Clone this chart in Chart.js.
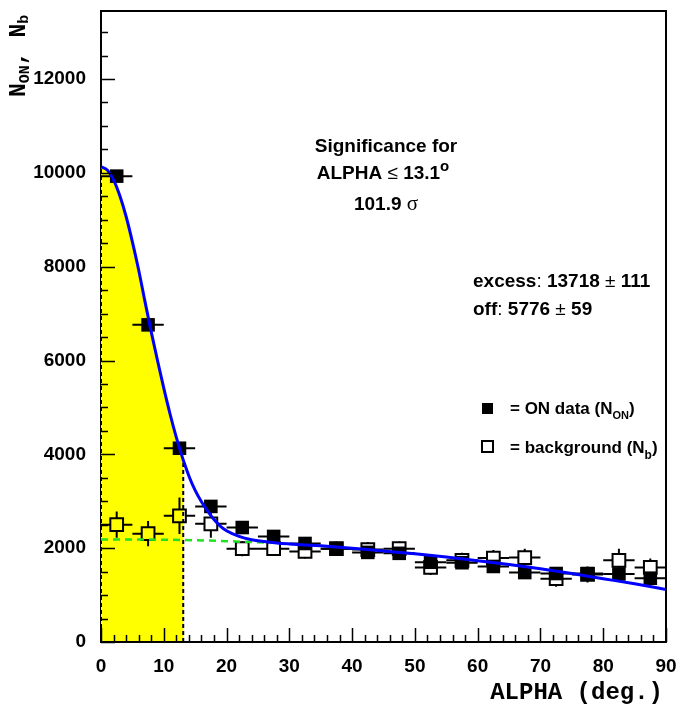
<!DOCTYPE html>
<html>
<head>
<meta charset="utf-8">
<script src="https://cdn.jsdelivr.net/npm/chart.js@4.4.0/dist/chart.umd.min.js"></script>
<style>
  html, body { margin: 0; padding: 0; background: #fff; }
</style>
</head>
<body>
<canvas id="alphaPlot" width="678" height="708"></canvas>
<script>
// --- data ---
const binCenters = [2.5, 7.5, 12.5, 17.5, 22.5, 27.5, 32.5, 37.5, 42.5, 47.5, 52.5, 57.5, 62.5, 67.5, 72.5, 77.5, 82.5, 87.5];
const binHalfWidth = 2.5;
const onCounts  = [9930, 6760, 4130, 2890, 2440, 2250, 2100, 1990, 1910, 1890, 1700, 1690, 1610, 1480, 1460, 1460, 1450, 1360];
const onErrors  = [100, 82, 64, 54, 49, 48, 46, 45, 44, 44, 41, 41, 40, 39, 38, 38, 38, 37];
const offCounts = [2500, 2310, 2690, 2520, 1990, 1990, 1930, 1990, 1970, 1990, 1590, 1740, 1790, 1800, 1350, 1440, 1740, 1590];
const offErrors = [280, 270, 390, 300, 160, 150, 150, 150, 160, 150, 160, 160, 170, 190, 170, 170, 250, 190];

// fitted curve (signal + background)
const fitX = [0, 1, 2, 3, 4, 5, 6, 7, 8, 9, 10, 11, 12, 13, 13.1, 14, 15, 16, 17, 18, 19, 20, 22, 24, 26, 28, 30, 35, 40, 45, 50, 55, 60, 65, 70, 75, 80, 85, 90];
const fitY = [10130, 10060, 9850, 9510, 9070, 8530, 7930, 7260, 6610, 6000, 5410, 4860, 4360, 3920, 3880, 3540, 3230, 2990, 2790, 2610, 2470, 2370, 2250, 2180, 2140, 2110, 2090, 2050, 2000, 1940, 1880, 1810, 1730, 1650, 1560, 1460, 1350, 1240, 1120];

// background-only fit (green dashed)
const bgX = [0, 5, 10, 15, 20, 25, 27];
const bgY = [2185, 2185, 2180, 2170, 2150, 2125, 2112];

const alphaCut = 13.1;
const xTicks = [0, 10, 20, 30, 40, 50, 60, 70, 80, 90];
const yTicks = [0, 2000, 4000, 6000, 8000, 10000, 12000];

const SANS = "'Liberation Sans', Arial, sans-serif";
const MONO = "'Liberation Mono', 'Courier New', monospace";

const pts = (xs, ys) => xs.map((x, i) => ({ x: x, y: ys[i] }));
const fitPts = pts(fitX, fitY);
const shadePts = fitPts.filter(p => p.x <= alphaCut);
const cutTop = fitY[fitX.indexOf(alphaCut)];

// error bars drawn under each marker set, with a gap round open markers
const errorBars = {
  id: 'errorBars',
  beforeDatasetDraw(chart, args) {
    const ds = chart.data.datasets[args.index];
    if (!ds.errY) return;
    const { ctx, scales: { x, y } } = chart;
    const gap = ds.markerGap || 0;
    ctx.save();
    ctx.strokeStyle = '#000';
    ctx.lineWidth = 2;
    ds.data.forEach((p, i) => {
      const px = x.getPixelForValue(p.x), py = y.getPixelForValue(p.y);
      const xl = x.getPixelForValue(p.x - ds.errX), xr = x.getPixelForValue(p.x + ds.errX);
      const yt = y.getPixelForValue(p.y + ds.errY[i]), yb = y.getPixelForValue(p.y - ds.errY[i]);
      ctx.beginPath();
      ctx.moveTo(xl, py); ctx.lineTo(px - gap, py);
      ctx.moveTo(px + gap, py); ctx.lineTo(xr, py);
      if (yt < py - gap) {
        ctx.moveTo(px, yt); ctx.lineTo(px, py - gap);
        ctx.moveTo(px, py + gap); ctx.lineTo(px, yb);
      }
      ctx.stroke();
    });
    ctx.restore();
  }
};

// ROOT-like frame with inside ticks
const frame = {
  id: 'frame',
  beforeDatasetsDraw(chart) {
    const { ctx, chartArea: a } = chart;
    ctx.save();
    ctx.strokeStyle = '#000';
    ctx.lineWidth = 2;
    ctx.strokeRect(a.left, a.top, a.right - a.left, a.bottom - a.top);
    ctx.restore();
  },
  afterDatasetsDraw(chart) {
    const { ctx, chartArea: a, scales: { x, y } } = chart;
    ctx.save();
    ctx.strokeStyle = '#000';
    ctx.lineWidth = 2;
    ctx.beginPath();
    ctx.moveTo(a.left - 1, a.bottom); ctx.lineTo(a.right + 1, a.bottom);
    ctx.stroke();
    ctx.lineWidth = 1.5;
    ctx.beginPath();
    for (let v = 0; v < y.max; v += 500) {
      const py = Math.round(y.getPixelForValue(v)) + 0.5;
      const len = v % 2000 === 0 ? 14 : 7;
      ctx.moveTo(a.left, py); ctx.lineTo(a.left + len, py);
    }
    for (let v = 0; v <= x.max; v += 2) {
      const px = Math.round(x.getPixelForValue(v)) + 0.5;
      const len = v % 10 === 0 ? 14 : 7;
      ctx.moveTo(px, a.bottom); ctx.lineTo(px, a.bottom - len);
    }
    ctx.stroke();
    ctx.restore();
  }
};

function drawRuns(ctx, runs, x, y, align) {
  let w = 0;
  runs.forEach(r => { ctx.font = r.font; r.w = ctx.measureText(r.text).width; w += r.w; });
  let cx = align === 'center' ? x - w / 2 : x;
  runs.forEach(r => {
    ctx.font = r.font;
    ctx.fillText(r.text, cx, y + (r.dy || 0));
    cx += r.w;
  });
}

const texts = {
  id: 'texts',
  afterDraw(chart) {
    const ctx = chart.ctx;
    const B19 = 'bold 19px ' + SANS, R19 = '19px ' + SANS;
    const B17 = 'bold 17px ' + SANS, B11 = 'bold 11px ' + SANS;
    ctx.save();
    ctx.fillStyle = '#000';
    ctx.textAlign = 'left';
    ctx.textBaseline = 'alphabetic';

    drawRuns(ctx, [{ text: 'Significance for', font: B19 }], 386, 152, 'center');
    drawRuns(ctx, [
      { text: 'ALPHA ', font: B19 }, { text: '\u2264', font: R19 },
      { text: ' 13.1', font: B19 }, { text: 'o', font: 'bold 15px ' + SANS, dy: -8 }
    ], 383, 179, 'center');
    drawRuns(ctx, [{ text: '101.9 ', font: B19 }, { text: '\u03c3', font: "21px 'Liberation Serif', serif" }], 386, 210, 'center');

    drawRuns(ctx, [
      { text: 'excess', font: B19 }, { text: ': ', font: R19 }, { text: '13718 ', font: B19 },
      { text: '\u00b1', font: R19 }, { text: ' 111', font: B19 }
    ], 473, 287, 'left');
    drawRuns(ctx, [
      { text: 'off', font: B19 }, { text: ': ', font: R19 }, { text: '5776 ', font: B19 },
      { text: '\u00b1', font: R19 }, { text: ' 59', font: B19 }
    ], 473, 315, 'left');

    // legend
    ctx.fillRect(482, 403, 11, 11);
    ctx.strokeStyle = '#000';
    ctx.lineWidth = 2;
    ctx.strokeRect(482, 441, 11, 11);
    drawRuns(ctx, [{ text: '= ON data (N', font: B17 }, { text: 'ON', font: B11, dy: 5 }, { text: ')', font: B17 }], 510, 414, 'left');
    drawRuns(ctx, [{ text: '= background (N', font: B17 }, { text: 'b', font: 'bold 12px ' + SANS, dy: 6 }, { text: ')', font: B17 }], 510, 453, 'left');

    // axis titles
    ctx.textAlign = 'right';
    ctx.font = 'bold 24px ' + MONO;
    ctx.fillText('ALPHA (deg.)', 663, 699);

    ctx.textAlign = 'left';
    ctx.translate(25, 97);
    ctx.rotate(-Math.PI / 2);
    drawRuns(ctx, [
      { text: 'N', font: 'bold 23px ' + MONO }, { text: 'ON', font: 'bold 15px ' + MONO, dy: 4 },
      { text: ', N', font: 'bold 23px ' + MONO }, { text: 'b', font: 'bold 15px ' + MONO, dy: 3 }
    ], 0, 0, 'left');
    ctx.restore();
  }
};

const tickFont = { family: SANS, size: 19, weight: 'bold' };

new Chart(document.getElementById('alphaPlot'), {
  type: 'line',
  data: {
    datasets: [
      { data: fitPts, borderColor: '#0000ff', borderWidth: 3, pointRadius: 0, cubicInterpolationMode: 'monotone', order: 0 },
      { data: pts(bgX, bgY), borderColor: '#22e022', borderWidth: 2.5, borderDash: [7, 5], pointRadius: 0, order: 1 },
      {
        data: pts(binCenters, offCounts), showLine: false, pointStyle: 'rect', pointRadius: 9,
        pointBackgroundColor: 'rgba(0,0,0,0)', pointBorderColor: '#000', pointBorderWidth: 2,
        errX: binHalfWidth, errY: offErrors, markerGap: 6.5, order: 2
      },
      {
        data: pts(binCenters, onCounts), showLine: false, pointStyle: 'rect', pointRadius: 9.6,
        pointBackgroundColor: '#000', pointBorderColor: '#000', pointBorderWidth: 0,
        errX: binHalfWidth, errY: onErrors, markerGap: 0, order: 3
      },
      { data: [{ x: alphaCut, y: 0 }, { x: alphaCut, y: cutTop }], borderColor: '#000', borderWidth: 2, borderDash: [4, 3], pointRadius: 0, order: 4, clip: 4 },
      { data: [{ x: 0, y: 0 }, { x: 0, y: fitY[0] }], borderColor: '#000', borderWidth: 2, borderDash: [4, 3], pointRadius: 0, order: 4, clip: 4 },
      { data: shadePts, borderWidth: 0, borderColor: 'rgba(0,0,0,0)', backgroundColor: '#ffff00', fill: 'origin', pointRadius: 0, cubicInterpolationMode: 'monotone', order: 5 }
    ]
  },
  options: {
    responsive: false,
    animation: false,
    devicePixelRatio: 1,
    layout: { padding: { top: 6, right: 12, left: 0, bottom: 0 } },
    plugins: { legend: { display: false }, tooltip: { enabled: false } },
    scales: {
      x: {
        type: 'linear', min: 0, max: 90,
        afterBuildTicks: s => { s.ticks = xTicks.map(v => ({ value: v })); },
        afterFit: s => { s.height = 66; s.paddingLeft = 0; s.paddingRight = 0; },
        grid: { display: false }, border: { display: false },
        ticks: { font: tickFont, color: '#000', padding: 5, maxRotation: 0, callback: v => String(v) }
      },
      y: {
        type: 'linear', min: 0, max: 13450,
        afterBuildTicks: s => { s.ticks = yTicks.map(v => ({ value: v })); },
        afterFit: s => { s.width = 101; s.paddingTop = 0; s.paddingBottom = 0; },
        grid: { display: false }, border: { display: false },
        ticks: { font: tickFont, color: '#000', padding: 7, callback: v => String(v) }
      }
    }
  },
  plugins: [errorBars, frame, texts]
});
</script>
</body>
</html>
